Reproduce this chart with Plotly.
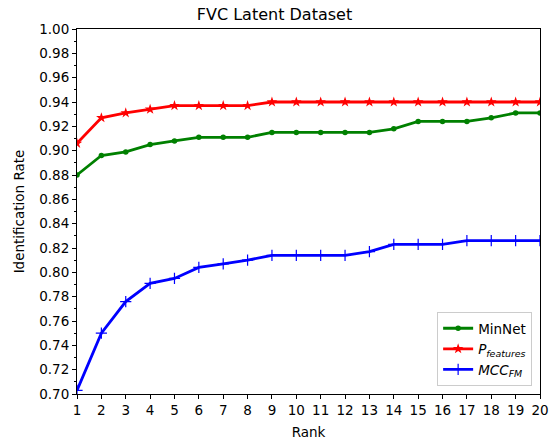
import plotly.graph_objects as go

ranks = list(range(1, 21))
minnet = [0.880, 0.896, 0.899, 0.905, 0.908, 0.911, 0.911, 0.911, 0.915, 0.915,
          0.915, 0.915, 0.915, 0.918, 0.924, 0.924, 0.924, 0.927, 0.931, 0.931]
pfeatures = [0.906, 0.927, 0.931, 0.934, 0.937, 0.937, 0.937, 0.937, 0.940, 0.940,
             0.940, 0.940, 0.940, 0.940, 0.940, 0.940, 0.940, 0.940, 0.940, 0.940]
mccfm = [0.703, 0.750, 0.776, 0.791, 0.795, 0.804, 0.807, 0.810, 0.814, 0.814,
         0.814, 0.814, 0.817, 0.823, 0.823, 0.823, 0.826, 0.826, 0.826, 0.826]
y_ticks = [round(0.70 + 0.02 * i, 2) for i in range(16)]

font = "DejaVu Sans, Liberation Sans, sans-serif"

fig = go.Figure()
fig.add_trace(go.Scatter(x=ranks, y=minnet, mode="lines+markers", name="MinNet",
                         line=dict(color="#008000", width=2.8),
                         marker=dict(symbol="circle", size=5.5, color="#008000")))
fig.add_trace(go.Scatter(x=ranks, y=pfeatures, mode="lines+markers",
                         name="<i>P<sub>features</sub></i>",
                         line=dict(color="#ff0000", width=2.8),
                         marker=dict(symbol="star", size=8, color="#ff0000")))
fig.add_trace(go.Scatter(x=ranks, y=mccfm, mode="lines+markers",
                         name="<i>MCC<sub>FM</sub></i>",
                         line=dict(color="#0000ff", width=2.8),
                         marker=dict(symbol="cross-thin", size=8, color="#0000ff",
                                     line=dict(color="#0000ff", width=1.2))))

axis_common = dict(showline=True, linecolor="black", linewidth=1, mirror=True,
                   ticks="outside", ticklen=4, tickwidth=1, tickcolor="black",
                   showgrid=False, zeroline=False, automargin=False,
                   tickfont=dict(family=font, size=13.5, color="black"))

fig.update_layout(
    width=549, height=443,
    margin=dict(l=77, r=9, t=29, b=49),
    paper_bgcolor="white", plot_bgcolor="white",
    title=dict(text="FVC Latent Dataset", x=0.5, xanchor="center", y=0.968, yanchor="middle",
               font=dict(family=font, size=16, color="black")),
    xaxis=dict(range=[1, 20], tickmode="array", tickvals=ranks,
               title=dict(text="Rank", font=dict(family=font, size=13.5, color="black"), standoff=10),
               **axis_common),
    yaxis=dict(range=[0.70, 1.00], tickmode="array", tickvals=y_ticks,
               ticktext=[f"{v:.2f}" for v in y_ticks],
               minor=dict(tickmode="linear", tick0=0.70, dtick=0.01, ticks="outside", ticklen=2.5,
                          tickcolor="black", showgrid=False),
               title=dict(text="Identification Rate", font=dict(family=font, size=13.5, color="black"), standoff=11),
               **axis_common),
    legend=dict(x=0.983, y=0.022, xanchor="right", yanchor="bottom",
                bgcolor="white", bordercolor="#cccccc", borderwidth=1,
                font=dict(family=font, size=13.5, color="black"),
                tracegroupgap=0, itemwidth=30),
    showlegend=True,
)

fig.write_html("out.html")
